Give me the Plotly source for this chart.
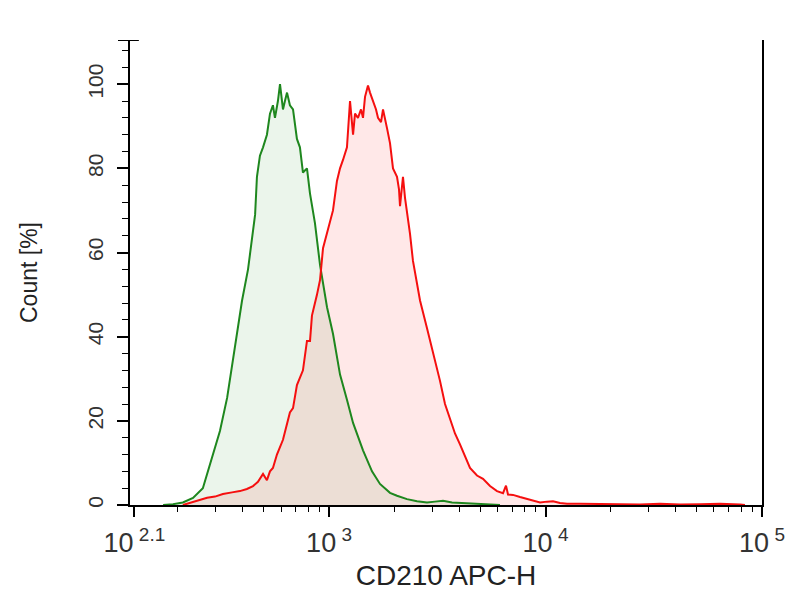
import plotly.graph_objects as go

# Control (green) histogram: CD210 APC-H intensity and count [%]
green_x = [171, 190, 211, 235, 261, 282, 297, 313, 338, 360, 379, 396, 422, 445, 455, 464,
           479, 495, 516, 533, 550, 562, 580, 593, 606, 612, 625, 639, 659, 681, 710, 733,
           757, 790, 816, 833, 860, 908, 937, 978, 1042, 1123, 1209, 1290, 1434, 1578, 1718,
           1911, 2059, 2290, 2547, 2833, 3085, 3359, 3696, 4024, 4476, 4978, 5538, 6159]
green_y = [0, 0.2, 0.6, 1.7, 4, 9.7, 13.5, 17.6, 25.5, 35, 43, 48.6, 56, 66, 69, 78,
           83, 85, 88, 93, 95, 92, 96, 100, 96, 94, 96, 98, 95, 94, 87, 85,
           79, 80, 74, 71, 67, 57, 53, 47, 40.7, 31, 25, 19.5, 13, 8, 5,
           2.9, 2.2, 1.4, 0.9, 0.6, 0.8, 1, 0.6, 0.5, 0.3, 0.2, 0.1, 0]

# Stained (red) histogram
red_x = [211, 228, 245, 273, 297, 323, 356, 387, 417, 445, 469, 495, 516, 533, 550, 574,
         612, 659, 681, 710, 757, 790, 816, 833, 879, 908, 937, 978, 1009, 1042, 1087, 1123,
         1159, 1209, 1249, 1290, 1317, 1359, 1404, 1434, 1465, 1512, 1545, 1595, 1647, 1682,
         1737, 1774, 1813, 1852, 1911, 1973, 2059, 2103, 2126, 2171, 2194, 2242, 2290, 2364,
         2440, 2547, 2630, 2833, 3020, 3253, 3431, 3618, 3815, 4024, 4244, 4476, 4822, 5140,
         5538, 5965, 6360, 6565, 6707, 7073, 7620, 8476, 9426, 10153, 10824, 11660, 12563,
         14425, 17846, 22077, 27312, 33788, 41800, 51711, 63972, 79147, 83437]
red_y = [0, 0.5, 1.0, 1.7, 2.0, 2.6, 3.0, 3.3, 3.8, 4.5, 5.5, 7.4, 5.9, 8.0, 8.8, 12,
         15.5, 22, 23, 28.5, 32, 39, 39, 45, 50, 53.5, 61, 64.5, 67, 70, 77, 80,
         82, 85, 96, 88, 93, 92, 94, 92, 97, 99.7, 98, 96, 94, 92,
         91, 94, 92, 89.5, 86, 80, 78, 75, 71, 76, 78, 73, 70, 64.5,
         58, 52, 48.6, 42, 36.5, 29.5, 24, 20.5, 17, 14.4, 11.5, 8.8, 7.0, 6.2,
         4.5, 3.3, 2.8, 4.6, 2.5, 2.4, 1.9, 1.2, 0.6, 0.8, 0.9, 0.5, 0.3,
         0.3, 0.2, 0.2, 0.1, 0.3, 0.1, 0.2, 0.3, 0.1, 0]

x_tickvals = [10 ** 2.1, 1e3, 1e4, 1e5]
x_exponents = ["2.1", "3", "4", "5"]
y_tickvals = [0, 20, 40, 60, 80, 100]

GREEN = "rgb(30,135,30)"
RED = "rgb(245,15,15)"
FONT = "Liberation Sans, Arial, sans-serif"

x_ticktext = ["10\u2009<sup><span style='font-size:19px'>%s</span></sup>" % e for e in x_exponents]

fig = go.Figure()
fig.add_trace(go.Scatter(x=green_x, y=green_y, mode="lines", fill="tozeroy",
                         fillcolor="rgba(34,139,34,0.09)", line=dict(width=0),
                         hoverinfo="skip", showlegend=False))
fig.add_trace(go.Scatter(x=red_x, y=red_y, mode="lines", fill="tozeroy",
                         fillcolor="rgba(255,0,0,0.09)", line=dict(width=0),
                         hoverinfo="skip", showlegend=False))
fig.add_trace(go.Scatter(x=green_x, y=green_y, mode="lines",
                         line=dict(color=GREEN, width=2), showlegend=False))
fig.add_trace(go.Scatter(x=red_x, y=red_y, mode="lines",
                         line=dict(color=RED, width=2), showlegend=False))

fig.update_layout(
    width=804, height=600,
    margin=dict(l=130, r=42, t=40, b=95),
    paper_bgcolor="white", plot_bgcolor="white",
    font=dict(family=FONT, color="#222"),
    showlegend=False,
)
fig.update_xaxes(
    type="log", range=[2.08, 5.0],
    tickmode="array", tickvals=x_tickvals, ticktext=x_ticktext,
    ticks="outside", ticklen=10, tickwidth=1.5, tickcolor="black",
    minor=dict(dtick="D1", ticks="outside", ticklen=5, tickwidth=1.2, tickcolor="black", showgrid=False),
    showline=True, linecolor="black", linewidth=2,
    showgrid=False, zeroline=False,
    tickfont=dict(size=27, family=FONT, color="#333"),
    ticklabelstandoff=3,
    title=dict(text="CD210 APC-H", font=dict(size=28, family=FONT, color="#222"), standoff=8),
)
fig.update_yaxes(
    range=[0, 110.5],
    tickmode="array", tickvals=y_tickvals,
    ticks="outside", ticklen=11, tickwidth=1.5, tickcolor="black",
    minor=dict(tick0=0, dtick=4, ticks="outside", ticklen=6, tickwidth=1.2, tickcolor="black", showgrid=False),
    showline=True, linecolor="black", linewidth=2, mirror=True,
    showgrid=False, zeroline=False,
    tickangle=-90,
    tickfont=dict(size=21, family=FONT, color="#333"),
    ticklabelstandoff=6,
    title=dict(text="Count [%]", font=dict(size=23, family=FONT, color="#222"), standoff=40),
)
fig.add_shape(type="line", xref="x domain", yref="y", x0=-0.019, x1=0.014, y0=110.5, y1=110.5,
              line=dict(color="black", width=2))

fig.write_html("out.html")
